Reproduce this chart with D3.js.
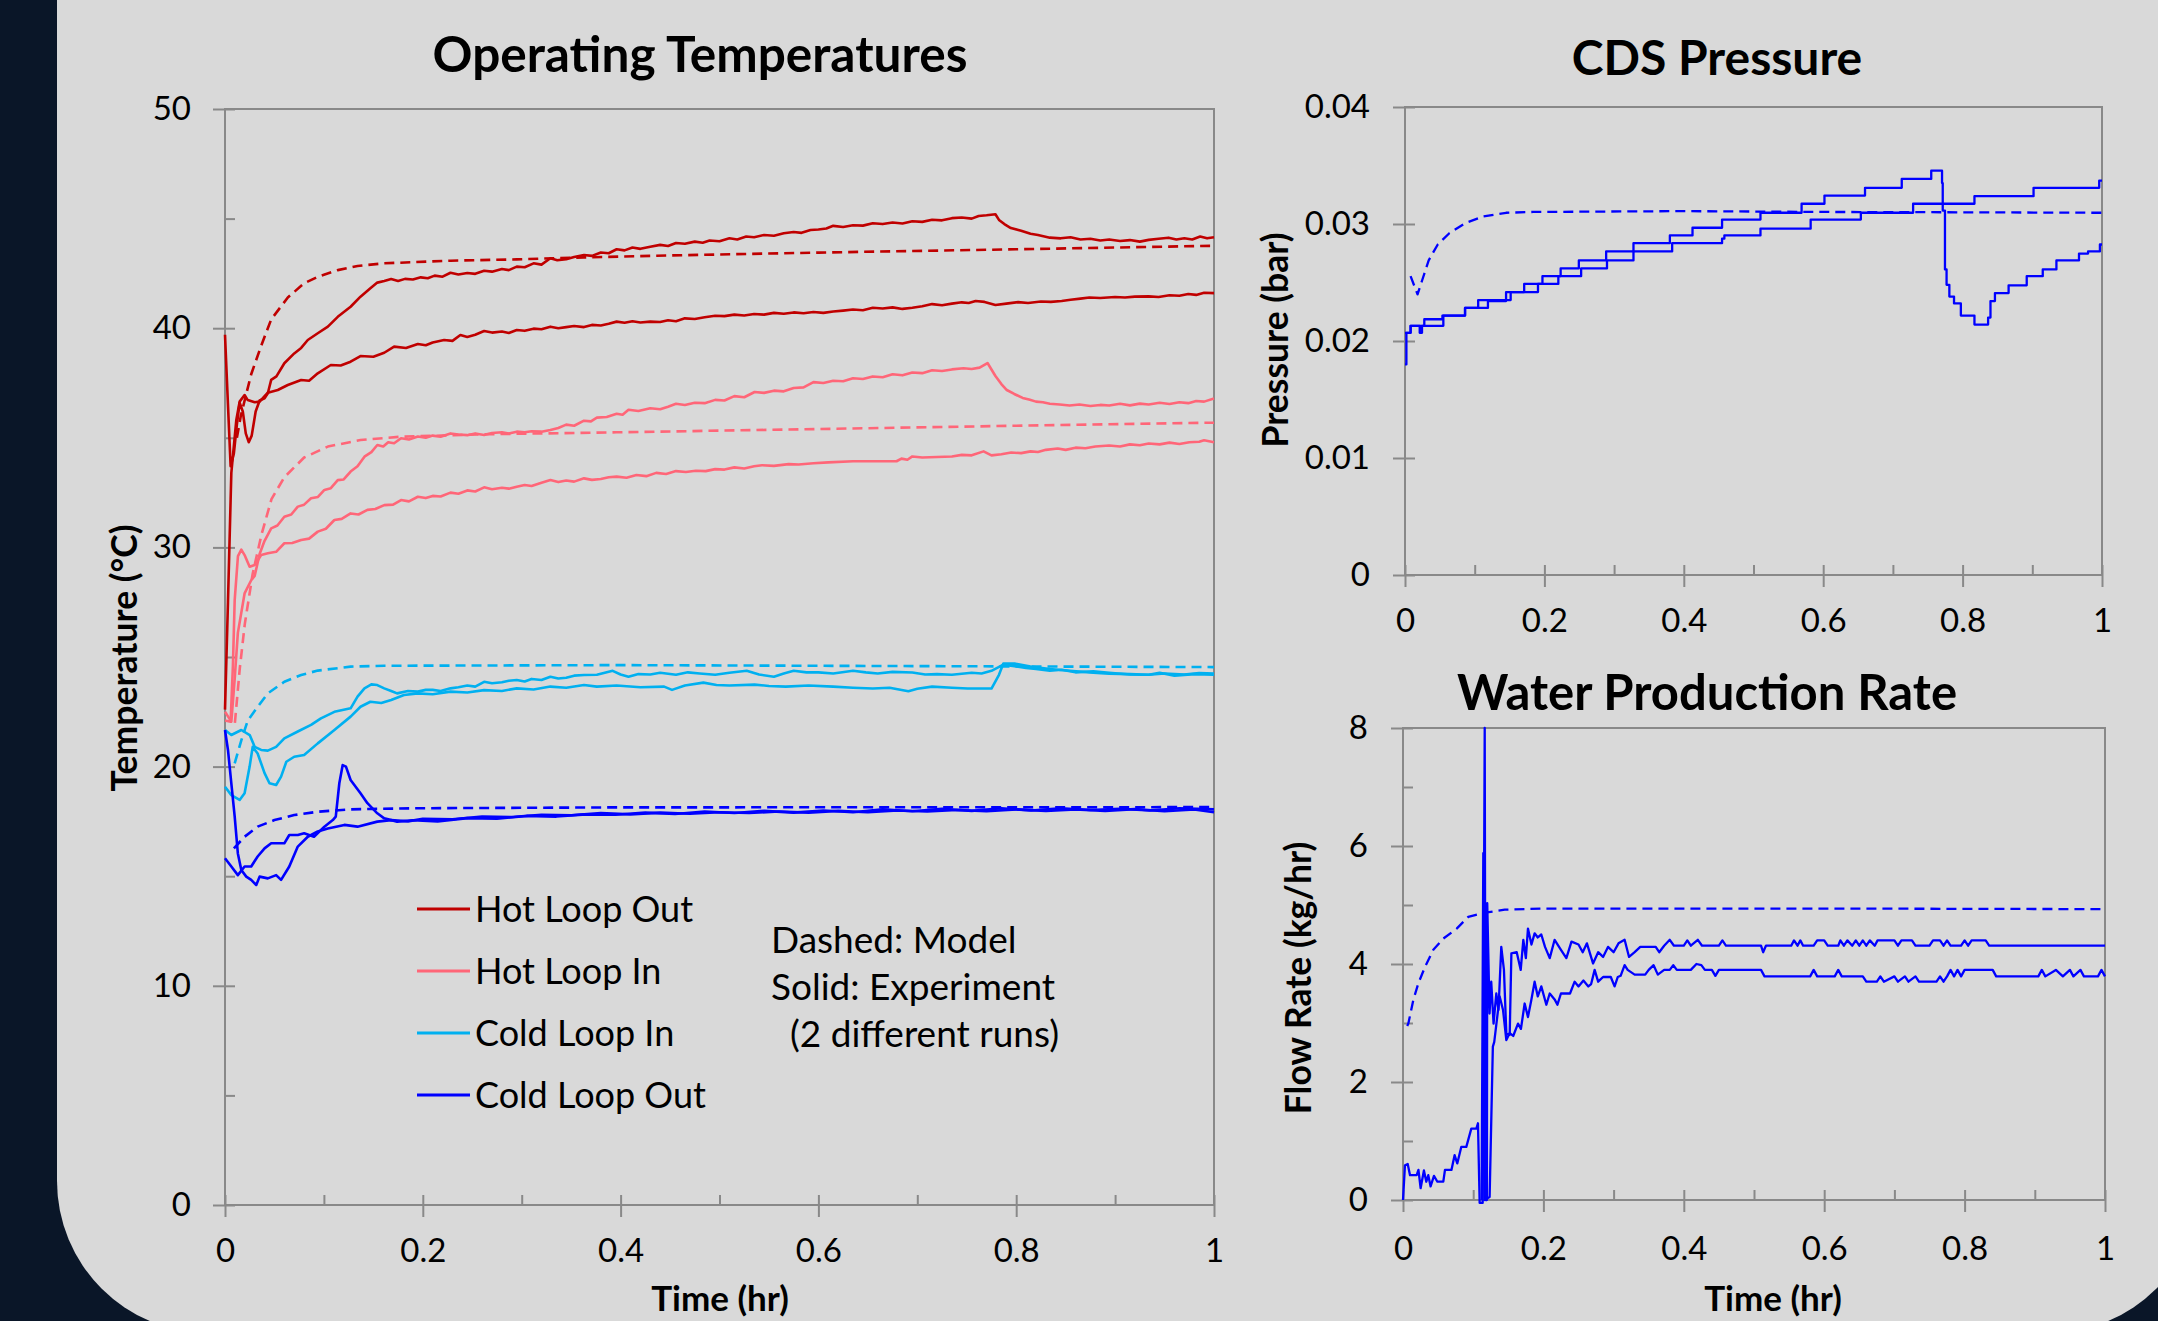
<!DOCTYPE html>
<html>
<head>
<meta charset="utf-8">
<script src="https://cdn.jsdelivr.net/npm/d3@7"></script>
<style>
  body { margin: 0; background: #0a1628; }
  svg { display: block; }
  text { font-family: Lato, "Open Sans", sans-serif; fill: #000; }
</style>
</head>
<body>
<svg id="chart" width="2158" height="1321"></svg>
<script>
// ---- data: [time (hr), value] ----

// Operating temperatures (deg C)
const hotOutModel = [[0.012,35.0],[0.016,36.0],[0.0215,37.0],[0.0265,37.9],[0.0366,39.2],[0.0467,40.4],[0.0635,41.4],[0.080,42.05],[0.094,42.35],[0.114,42.65],[0.134,42.84],[0.161,42.96],[0.228,43.08],[0.295,43.14],[0.363,43.23],[0.45,43.32],[0.6,43.45],[0.8,43.6],[1.0,43.76]];
const hotOutRun1 = [[0,39.7],[0.003,36.5],[0.0057,33.7],[0.009,34.3],[0.012,35.6],[0.0148,36.6],[0.018,36.2],[0.021,35.2],[0.024,34.8],[0.027,35.1],[0.031,36.2],[0.035,36.7],[0.040,36.8],[0.0433,37.03],[0.0467,37.64],[0.052,37.8],[0.060,38.4],[0.070,38.85],[0.077,39.1],[0.0837,39.46],[0.0938,39.77],[0.104,40.07],[0.114,40.52],[0.127,40.98],[0.137,41.44],[0.147,41.82],[0.154,42.08],[0.161,42.15],[0.168,42.24],[0.175,42.15],[0.182,42.25],[0.19,42.22],[0.198,42.32],[0.205,42.28],[0.212,42.4],[0.22,42.35],[0.228,42.53],[0.236,42.45],[0.245,42.52],[0.253,42.48],[0.262,42.62],[0.27,42.58],[0.28,42.7],[0.287,42.65],[0.295,42.81],[0.303,42.78],[0.312,42.96],[0.32,42.9],[0.329,43.19],[0.336,43.1],[0.345,43.15],[0.353,43.25],[0.363,43.34],[0.371,43.3],[0.38,43.45],[0.388,43.42],[0.396,43.6],[0.404,43.55],[0.412,43.68],[0.42,43.62],[0.43,43.72],[0.44,43.8],[0.448,43.75],[0.456,43.89],[0.465,43.85],[0.475,43.95],[0.483,43.9],[0.49,44.0],[0.5,43.97],[0.51,44.1],[0.518,44.05],[0.527,44.18],[0.535,44.15],[0.545,44.25],[0.555,44.22],[0.565,44.33],[0.575,44.39],[0.583,44.35],[0.592,44.48],[0.6,44.5],[0.608,44.55],[0.615,44.67],[0.625,44.62],[0.635,44.7],[0.645,44.68],[0.655,44.79],[0.665,44.75],[0.675,44.82],[0.685,44.78],[0.695,44.88],[0.705,44.85],[0.715,44.95],[0.725,44.92],[0.735,45.02],[0.745,45.05],[0.755,45.0],[0.762,45.12],[0.77,45.15],[0.779,45.2],[0.7826,44.94],[0.788,44.75],[0.7946,44.57],[0.805,44.45],[0.8145,44.31],[0.822,44.25],[0.834,44.13],[0.845,44.1],[0.855,44.15],[0.865,44.05],[0.875,44.08],[0.885,44.0],[0.894,44.05],[0.905,43.98],[0.915,44.02],[0.925,43.95],[0.934,44.03],[0.944,44.08],[0.954,44.13],[0.962,44.05],[0.97,44.1],[0.978,44.05],[0.986,44.18],[0.993,44.1],[1.0,44.15]];
const hotOutRun2 = [[0,22.6],[0.003,27.5],[0.0057,32.2],[0.0064,33.4],[0.0114,35.8],[0.0148,36.65],[0.0198,36.95],[0.023,36.72],[0.030,36.62],[0.035,36.65],[0.0433,37.06],[0.0534,37.18],[0.0635,37.41],[0.077,37.64],[0.085,37.6],[0.0938,37.94],[0.107,38.32],[0.117,38.3],[0.127,38.47],[0.137,38.73],[0.15,38.7],[0.161,38.88],[0.171,39.16],[0.183,39.1],[0.195,39.28],[0.203,39.22],[0.21,39.35],[0.2215,39.46],[0.23,39.42],[0.238,39.69],[0.245,39.6],[0.253,39.7],[0.262,39.87],[0.27,39.8],[0.28,39.85],[0.287,39.78],[0.295,39.92],[0.303,39.88],[0.312,39.98],[0.32,39.95],[0.329,40.07],[0.337,40.0],[0.345,40.05],[0.353,40.1],[0.363,40.05],[0.371,40.15],[0.38,40.12],[0.388,40.2],[0.396,40.3],[0.404,40.25],[0.412,40.32],[0.42,40.26],[0.43,40.3],[0.44,40.28],[0.448,40.36],[0.456,40.32],[0.465,40.45],[0.475,40.42],[0.485,40.5],[0.4956,40.57],[0.505,40.55],[0.515,40.62],[0.525,40.58],[0.535,40.65],[0.545,40.62],[0.555,40.7],[0.565,40.66],[0.575,40.72],[0.585,40.68],[0.595,40.74],[0.605,40.7],[0.615,40.76],[0.625,40.8],[0.635,40.85],[0.645,40.82],[0.655,40.93],[0.665,40.9],[0.675,40.95],[0.685,40.88],[0.695,40.93],[0.705,41.0],[0.715,41.1],[0.725,41.05],[0.735,41.12],[0.745,41.18],[0.752,41.15],[0.759,41.24],[0.768,41.2],[0.779,41.06],[0.79,41.12],[0.802,41.19],[0.812,41.15],[0.825,41.22],[0.835,41.2],[0.846,41.24],[0.855,41.3],[0.865,41.35],[0.874,41.4],[0.885,41.38],[0.9,41.42],[0.91,41.4],[0.92,41.44],[0.934,41.45],[0.944,41.42],[0.955,41.5],[0.965,41.48],[0.974,41.56],[0.982,41.52],[0.99,41.62],[1.0,41.6]];

const hotInModel = [[0.010,22.0],[0.015,24.5],[0.020,26.5],[0.028,28.8],[0.037,30.6],[0.047,32.2],[0.060,33.2],[0.080,34.1],[0.104,34.6],[0.137,34.9],[0.178,35.05],[0.262,35.16],[0.396,35.25],[0.6,35.4],[0.8,35.55],[1.0,35.69]];
const hotInRun1 = [[0,22.5],[0.0064,22.05],[0.0098,24.0],[0.013,26.1],[0.0198,27.9],[0.0265,28.5],[0.030,28.7],[0.035,29.7],[0.040,30.3],[0.0467,30.87],[0.053,31.0],[0.060,31.4],[0.067,31.5],[0.0736,31.86],[0.08,31.95],[0.087,32.24],[0.094,32.3],[0.1005,32.62],[0.107,32.7],[0.114,33.07],[0.12,33.1],[0.127,33.46],[0.134,33.7],[0.141,34.14],[0.148,34.35],[0.154,34.67],[0.16,34.6],[0.165,34.8],[0.171,34.75],[0.178,34.98],[0.186,34.92],[0.195,35.06],[0.203,35.0],[0.21,35.1],[0.218,35.05],[0.228,35.2],[0.236,35.15],[0.245,35.12],[0.253,35.2],[0.262,35.13],[0.27,35.22],[0.28,35.25],[0.287,35.2],[0.295,35.28],[0.303,35.25],[0.31,35.3],[0.32,35.28],[0.329,35.36],[0.337,35.45],[0.345,35.6],[0.353,35.55],[0.363,35.78],[0.37,35.75],[0.376,35.92],[0.386,35.95],[0.396,36.1],[0.402,36.05],[0.408,36.28],[0.418,36.22],[0.43,36.35],[0.44,36.3],[0.448,36.42],[0.456,36.55],[0.465,36.5],[0.475,36.6],[0.485,36.58],[0.4956,36.73],[0.505,36.7],[0.515,36.9],[0.525,36.85],[0.5355,37.09],[0.545,37.05],[0.555,37.15],[0.565,37.12],[0.575,37.27],[0.585,37.3],[0.595,37.54],[0.605,37.5],[0.615,37.6],[0.625,37.58],[0.635,37.72],[0.645,37.68],[0.655,37.8],[0.665,37.76],[0.675,37.9],[0.685,37.85],[0.695,37.98],[0.705,37.95],[0.715,38.08],[0.725,38.05],[0.735,38.12],[0.7467,38.17],[0.755,38.14],[0.763,38.2],[0.771,38.41],[0.779,37.82],[0.785,37.45],[0.7905,37.18],[0.798,37.0],[0.8065,36.82],[0.813,36.75],[0.82,36.65],[0.827,36.62],[0.834,36.55],[0.844,36.52],[0.854,36.47],[0.864,36.52],[0.875,36.45],[0.885,36.5],[0.894,36.47],[0.905,36.55],[0.915,36.48],[0.925,36.56],[0.934,36.52],[0.945,36.6],[0.955,36.54],[0.965,36.62],[0.974,36.58],[0.982,36.68],[0.99,36.65],[1.0,36.79]];
const hotInRun2 = [[0,22.1],[0.0057,22.05],[0.008,24.6],[0.0098,27.6],[0.0131,29.6],[0.0165,29.9],[0.0198,29.65],[0.0249,29.12],[0.030,29.2],[0.0366,29.65],[0.0433,29.73],[0.0517,29.8],[0.060,30.19],[0.068,30.2],[0.077,30.34],[0.085,30.4],[0.0938,30.72],[0.102,30.85],[0.1106,31.25],[0.118,31.3],[0.127,31.55],[0.135,31.5],[0.144,31.71],[0.152,31.75],[0.161,31.93],[0.17,31.95],[0.178,32.16],[0.186,32.1],[0.195,32.31],[0.203,32.25],[0.21,32.35],[0.218,32.32],[0.228,32.5],[0.236,32.45],[0.245,32.6],[0.253,32.55],[0.262,32.74],[0.27,32.65],[0.28,32.72],[0.287,32.68],[0.295,32.77],[0.303,32.85],[0.31,32.8],[0.32,32.95],[0.329,33.07],[0.337,32.98],[0.345,33.05],[0.353,33.0],[0.363,33.15],[0.371,33.08],[0.38,33.12],[0.388,33.2],[0.396,33.23],[0.406,33.18],[0.416,33.3],[0.426,33.25],[0.436,33.4],[0.446,33.35],[0.456,33.48],[0.466,33.44],[0.476,33.5],[0.486,33.48],[0.4956,33.57],[0.505,33.55],[0.515,33.65],[0.525,33.6],[0.535,33.7],[0.543,33.75],[0.555,33.72],[0.57,33.8],[0.58,33.78],[0.595,33.84],[0.61,33.88],[0.635,33.93],[0.679,33.93],[0.684,34.05],[0.69,34.0],[0.695,34.15],[0.705,34.1],[0.735,34.15],[0.745,34.22],[0.755,34.2],[0.767,34.38],[0.775,34.2],[0.785,34.25],[0.795,34.33],[0.805,34.3],[0.8145,34.38],[0.822,34.35],[0.83,34.45],[0.842,34.51],[0.85,34.45],[0.86,34.55],[0.87,34.52],[0.88,34.6],[0.894,34.65],[0.905,34.6],[0.915,34.7],[0.925,34.66],[0.934,34.74],[0.945,34.7],[0.955,34.78],[0.965,34.72],[0.975,34.8],[0.985,34.82],[0.99,34.89],[1.0,34.8]];

const coldInModel = [[0.0098,20.15],[0.0165,21.2],[0.023,22.1],[0.033,22.73],[0.0433,23.34],[0.060,23.87],[0.077,24.18],[0.0938,24.38],[0.127,24.56],[0.161,24.6],[0.396,24.63],[1.0,24.54]];
const coldInRun1 = [[0,21.67],[0.0064,21.44],[0.0165,21.67],[0.025,21.44],[0.030,20.9],[0.0366,20.76],[0.0433,20.73],[0.0517,20.9],[0.060,21.29],[0.0736,21.6],[0.087,21.9],[0.097,22.2],[0.1106,22.5],[0.127,22.66],[0.134,23.19],[0.141,23.57],[0.148,23.75],[0.154,23.72],[0.161,23.57],[0.168,23.45],[0.174,23.34],[0.185,23.45],[0.195,23.42],[0.203,23.5],[0.21,23.5],[0.218,23.45],[0.228,23.57],[0.236,23.62],[0.245,23.7],[0.253,23.65],[0.262,23.87],[0.27,23.8],[0.28,23.85],[0.287,23.92],[0.295,23.95],[0.303,23.88],[0.31,24.0],[0.32,23.95],[0.329,24.1],[0.337,24.02],[0.345,24.05],[0.353,24.15],[0.363,24.18],[0.376,24.19],[0.384,24.28],[0.392,24.37],[0.4,24.2],[0.408,24.1],[0.418,24.22],[0.43,24.2],[0.44,24.28],[0.456,24.19],[0.468,24.3],[0.48,24.25],[0.4956,24.19],[0.51,24.28],[0.5275,24.37],[0.54,24.2],[0.555,24.1],[0.565,24.25],[0.575,24.37],[0.588,24.3],[0.6,24.3],[0.615,24.25],[0.635,24.37],[0.648,24.3],[0.66,24.25],[0.675,24.32],[0.695,24.29],[0.708,24.2],[0.72,24.22],[0.735,24.19],[0.755,24.28],[0.765,24.25],[0.775,24.37],[0.787,24.65],[0.802,24.56],[0.81,24.5],[0.82,24.45],[0.834,24.37],[0.846,24.42],[0.86,24.3],[0.878,24.35],[0.894,24.28],[0.915,24.2],[0.934,24.19],[0.945,24.28],[0.96,24.15],[0.98,24.22],[1.0,24.19]];
const coldInRun2 = [[0,19.08],[0.0064,18.7],[0.0148,18.48],[0.0198,18.78],[0.0249,20.0],[0.028,20.9],[0.033,20.6],[0.040,19.7],[0.045,19.24],[0.0517,19.16],[0.0567,19.54],[0.062,20.22],[0.070,20.45],[0.080,20.53],[0.0938,21.06],[0.1106,21.67],[0.127,22.28],[0.137,22.73],[0.147,22.96],[0.158,22.9],[0.168,23.04],[0.181,23.27],[0.195,23.34],[0.21,23.3],[0.228,23.42],[0.245,23.38],[0.262,23.49],[0.28,23.45],[0.295,23.57],[0.312,23.52],[0.329,23.65],[0.345,23.6],[0.363,23.72],[0.376,23.65],[0.396,23.7],[0.42,23.62],[0.444,23.65],[0.452,23.5],[0.465,23.7],[0.4837,23.83],[0.497,23.72],[0.51,23.7],[0.5355,23.74],[0.55,23.68],[0.567,23.65],[0.59,23.7],[0.615,23.65],[0.635,23.6],[0.655,23.56],[0.672,23.6],[0.691,23.44],[0.7,23.55],[0.715,23.65],[0.735,23.6],[0.751,23.56],[0.775,23.56],[0.7826,24.19],[0.787,24.7],[0.7985,24.7],[0.8145,24.56],[0.834,24.45],[0.854,24.37],[0.874,24.3],[0.894,24.24],[0.915,24.22],[0.934,24.19],[0.95,24.25],[0.97,24.2],[0.985,24.27],[1.0,24.24]];

const coldOutModel = [[0.009,16.27],[0.0198,16.8],[0.033,17.26],[0.050,17.56],[0.070,17.79],[0.0938,17.94],[0.127,18.05],[0.195,18.1],[0.396,18.14],[1.0,18.15]];
const coldOutRun1 = [[0,21.67],[0.003,20.76],[0.0064,19.24],[0.0098,17.72],[0.013,16.04],[0.0165,15.28],[0.0215,14.98],[0.0265,14.83],[0.0316,14.6],[0.035,14.98],[0.0433,14.9],[0.0517,15.05],[0.0567,14.83],[0.065,15.44],[0.0736,16.35],[0.0837,16.8],[0.0938,17.04],[0.104,17.18],[0.1207,17.34],[0.134,17.26],[0.154,17.49],[0.168,17.56],[0.185,17.5],[0.2,17.62],[0.23,17.6],[0.26,17.72],[0.29,17.7],[0.32,17.8],[0.35,17.78],[0.38,17.88],[0.41,17.82],[0.44,17.9],[0.47,17.85],[0.5,17.92],[0.53,17.88],[0.56,17.95],[0.59,17.9],[0.62,17.98],[0.65,17.92],[0.68,18.0],[0.71,17.95],[0.74,18.02],[0.77,17.96],[0.8,18.05],[0.83,17.98],[0.86,18.05],[0.89,17.98],[0.92,18.06],[0.95,17.96],[0.98,18.04],[1.0,17.92]];
const coldOutRun2 = [[0,15.82],[0.0064,15.44],[0.013,15.05],[0.0198,15.44],[0.0265,15.44],[0.033,15.9],[0.040,16.27],[0.0467,16.5],[0.06,16.5],[0.065,16.88],[0.0736,16.88],[0.080,16.96],[0.090,16.8],[0.1005,17.26],[0.109,17.56],[0.112,17.72],[0.1156,19.24],[0.119,20.07],[0.1223,20.0],[0.127,19.39],[0.137,18.78],[0.144,18.33],[0.154,17.87],[0.161,17.64],[0.174,17.49],[0.19,17.55],[0.215,17.5],[0.245,17.65],[0.275,17.62],[0.305,17.75],[0.335,17.72],[0.365,17.82],[0.395,17.8],[0.425,17.9],[0.455,17.84],[0.485,17.95],[0.515,17.88],[0.545,17.98],[0.575,17.9],[0.605,18.0],[0.635,17.92],[0.665,18.05],[0.695,17.96],[0.725,18.08],[0.755,17.98],[0.785,18.1],[0.815,18.0],[0.845,18.1],[0.875,18.02],[0.905,18.08],[0.935,18.0],[0.965,18.1],[1.0,18.05]];

// CDS pressure (bar); experiment values are step levels
const presModel = [[0.008,0.02554],[0.018,0.02399],[0.0244,0.02515],[0.034,0.02689],[0.047,0.02825],[0.0636,0.02921],[0.0863,0.03007],[0.1124,0.03065],[0.145,0.03096],[0.184,0.03103],[0.4,0.0311],[0.6,0.03103],[0.8,0.031],[1.0,0.03096]];
const presRun1 = [[0,0.0207],[0.008,0.0213],[0.0211,0.0207],[0.0244,0.0213],[0.055,0.02217],[0.086,0.02283],[0.105,0.0235],[0.1516,0.02418],[0.1908,0.02488],[0.22,0.02554],[0.2527,0.0262],[0.2898,0.02689],[0.3278,0.02766],[0.3833,0.02836],[0.4549,0.02875],[0.4582,0.02902],[0.51,0.0296],[0.582,0.03038],[0.654,0.03096],[0.729,0.03173],[0.817,0.03238],[0.9018,0.03309],[0.996,0.0337],[1.0,0.0337]];
const presRun2 = [[0,0.018],[0.002,0.0207],[0.0081,0.0213],[0.0277,0.02186],[0.0537,0.02217],[0.0863,0.02283],[0.119,0.02341],[0.145,0.02418],[0.171,0.02488],[0.1972,0.02554],[0.2233,0.0262],[0.2494,0.02689],[0.2886,0.02766],[0.3278,0.02836],[0.38,0.02902],[0.4125,0.02968],[0.4549,0.03038],[0.51,0.03096],[0.569,0.03173],[0.6018,0.03243],[0.66,0.03309],[0.7127,0.03385],[0.755,0.03456],[0.7705,0.0335],[0.7715,0.03115],[0.7747,0.02612],[0.777,0.0248],[0.781,0.0238],[0.7877,0.02321],[0.7975,0.02217],[0.817,0.0214],[0.8366,0.022],[0.840,0.02341],[0.8464,0.0241],[0.866,0.02476],[0.892,0.02554],[0.915,0.02612],[0.9346,0.02689],[0.967,0.02747],[0.98,0.02766],[0.997,0.02825],[1.0,0.02825]];

// Water production rate (kg/hr)
const flowModel = [[0.006,2.95],[0.0076,2.99],[0.0147,3.39],[0.0218,3.67],[0.0313,3.95],[0.0432,4.24],[0.0574,4.43],[0.0765,4.60],[0.093,4.80],[0.1026,4.83],[0.1168,4.87],[0.145,4.92],[0.2023,4.94],[0.6,4.94],[1.0,4.93]];
const flowRun1 = [[0,0],[0.0028,0.59],[0.0067,0.61],[0.01,0.42],[0.0195,0.42],[0.022,0.51],[0.0251,0.2],[0.0298,0.5],[0.0332,0.31],[0.036,0.42],[0.0393,0.23],[0.0441,0.41],[0.049,0.31],[0.0574,0.31],[0.0598,0.51],[0.069,0.51],[0.0735,0.76],[0.0773,0.62],[0.083,0.9],[0.0902,0.9],[0.0973,1.21],[0.1045,1.21],[0.1068,1.3],[0.1092,-0.05],[0.1135,-0.05],[0.1164,8.0],[0.1177,0.0],[0.1195,0.0],[0.12,5.03],[0.1233,3.16],[0.1257,3.7],[0.129,2.99],[0.1329,3.5],[0.136,3.22],[0.14,4.29],[0.1438,3.9],[0.1472,2.82],[0.152,2.8],[0.1544,4.18],[0.162,4.2],[0.1677,3.9],[0.1714,4.41],[0.175,4.1],[0.178,4.6],[0.183,4.33],[0.1875,4.52],[0.192,4.45],[0.197,4.5],[0.2023,4.29],[0.209,4.1],[0.216,4.41],[0.225,4.24],[0.2327,4.1],[0.24,4.38],[0.25,4.33],[0.256,4.2],[0.262,4.35],[0.2707,4.01],[0.278,4.2],[0.285,4.12],[0.292,4.29],[0.3,4.2],[0.307,4.35],[0.3157,4.41],[0.322,4.12],[0.33,4.2],[0.338,4.29],[0.36,4.29],[0.365,4.2],[0.372,4.31],[0.38,4.41],[0.386,4.31],[0.4,4.31],[0.405,4.4],[0.41,4.31],[0.42,4.41],[0.426,4.31],[0.45,4.31],[0.455,4.4],[0.46,4.31],[0.51,4.31],[0.513,4.2],[0.517,4.31],[0.553,4.31],[0.557,4.4],[0.562,4.31],[0.566,4.4],[0.57,4.31],[0.585,4.31],[0.59,4.4],[0.6,4.4],[0.605,4.31],[0.62,4.31],[0.623,4.4],[0.628,4.31],[0.633,4.4],[0.64,4.31],[0.645,4.4],[0.65,4.31],[0.655,4.4],[0.66,4.31],[0.665,4.4],[0.672,4.31],[0.676,4.4],[0.7,4.4],[0.705,4.31],[0.71,4.4],[0.725,4.4],[0.73,4.31],[0.75,4.31],[0.755,4.4],[0.765,4.4],[0.77,4.31],[0.775,4.4],[0.78,4.31],[0.795,4.31],[0.8,4.4],[0.805,4.31],[0.81,4.4],[0.83,4.4],[0.835,4.31],[1.0,4.31]];
const flowRun2 = [[0.112,0],[0.1144,5.88],[0.116,0.0],[0.1234,0.05],[0.128,2.6],[0.13,2.68],[0.1377,3.45],[0.1425,3.22],[0.1472,2.71],[0.152,2.83],[0.157,2.78],[0.1638,2.99],[0.168,2.9],[0.1733,3.33],[0.178,3.1],[0.1828,3.39],[0.1875,3.7],[0.192,3.45],[0.197,3.62],[0.2042,3.31],[0.209,3.5],[0.216,3.4],[0.22,3.31],[0.225,3.5],[0.2379,3.5],[0.2445,3.7],[0.25,3.62],[0.257,3.72],[0.264,3.62],[0.268,3.66],[0.273,3.9],[0.278,3.7],[0.285,3.78],[0.296,3.78],[0.3014,3.62],[0.306,3.78],[0.31,3.8],[0.3157,3.98],[0.32,3.9],[0.33,3.82],[0.345,3.82],[0.35,3.9],[0.357,3.98],[0.363,3.82],[0.372,3.9],[0.38,3.9],[0.385,3.98],[0.39,3.9],[0.41,3.9],[0.418,4.0],[0.425,3.98],[0.43,3.9],[0.44,3.9],[0.445,3.8],[0.45,3.9],[0.51,3.9],[0.515,3.79],[0.58,3.79],[0.585,3.9],[0.59,3.79],[0.615,3.79],[0.62,3.9],[0.625,3.79],[0.655,3.79],[0.66,3.7],[0.675,3.7],[0.68,3.79],[0.685,3.7],[0.7,3.79],[0.705,3.7],[0.715,3.79],[0.72,3.7],[0.73,3.79],[0.735,3.7],[0.76,3.7],[0.765,3.79],[0.77,3.7],[0.775,3.79],[0.78,3.9],[0.785,3.79],[0.79,3.9],[0.795,3.79],[0.8,3.9],[0.84,3.9],[0.845,3.79],[0.905,3.79],[0.91,3.9],[0.915,3.79],[0.93,3.9],[0.94,3.79],[0.95,3.9],[0.955,3.79],[0.965,3.9],[0.97,3.79],[0.99,3.79],[0.995,3.9],[1.0,3.79]];

// axis ticks
const timeMajor = [0, 0.2, 0.4, 0.6, 0.8, 1];
const timeMinor = [0.1, 0.3, 0.5, 0.7, 0.9];
const tempMajor = [0, 10, 20, 30, 40, 50];
const tempMinor = [5, 15, 25, 35, 45];
const presMajor = [0, 0.01, 0.02, 0.03, 0.04];
const flowMajor = [0, 2, 4, 6, 8];
const flowMinor = [1, 3, 5, 7];

const legendNames = ['Hot Loop Out', 'Hot Loop In', 'Cold Loop In', 'Cold Loop Out'];
const colors = ['#c00000', '#ff6678', '#00b0f0', '#0000ff'];
const notes = ['Dashed: Model', 'Solid: Experiment', '  (2 different runs)'];

const AXIS_GREY = '#898989';

class Panel {

  constructor(_config, _series) {
    this.config = _config;
    this.series = _series;
    this.initVis();
  }

  initVis() {
    let vis = this;
    const c = vis.config;

    vis.x = d3.scaleLinear().domain([0, 1]).range([c.left, c.right]);
    vis.y = d3.scaleLinear().domain(c.yDomain).range([c.bottom, c.top]);

    vis.g = c.svg.append('g');

    // major ticks cross the axis, minor ones only point inward
    vis.g.append('g')
      .attr('transform', `translate(${c.left},0)`)
      .call(d3.axisLeft(vis.y).tickValues(c.yMajor).tickSizeInner(12).tickSizeOuter(0)
        .tickPadding(c.yPad).tickFormat(d3.format('~g')))
      .call(g => g.select('.domain').remove())
      .call(g => g.selectAll('text').attr('font-size', 33).style('font-family', 'Lato'));
    vis.g.append('g')
      .attr('transform', `translate(${c.left},0)`)
      .call(d3.axisRight(vis.y).tickValues(c.yMajor.concat(c.yMinor)).tickSize(10).tickFormat(''))
      .call(g => g.select('.domain').remove());

    vis.g.append('g')
      .attr('transform', `translate(0,${c.bottom})`)
      .call(d3.axisBottom(vis.x).tickValues(timeMajor).tickSizeInner(12).tickSizeOuter(0)
        .tickPadding(c.xPad).tickFormat(d3.format('~g')))
      .call(g => g.select('.domain').remove())
      .call(g => g.selectAll('text').attr('font-size', 33).style('font-family', 'Lato'));
    vis.g.append('g')
      .attr('transform', `translate(0,${c.bottom})`)
      .call(d3.axisTop(vis.x).tickValues(timeMajor.concat(timeMinor)).tickSize(10).tickFormat(''))
      .call(g => g.select('.domain').remove());

    vis.g.selectAll('.tick line').attr('stroke', AXIS_GREY).attr('stroke-width', 2);

    vis.g.append('rect')
      .attr('x', c.left).attr('y', c.top)
      .attr('width', c.right - c.left).attr('height', c.bottom - c.top)
      .attr('fill', 'none').attr('stroke', AXIS_GREY).attr('stroke-width', 2);

    vis.g.append('text')
      .attr('x', c.titleX).attr('y', c.titleY)
      .attr('text-anchor', 'middle')
      .attr('font-size', c.titleSize || 49).attr('font-weight', 'bold')
      .text(c.title);

    vis.g.append('text')
      .attr('transform', `translate(${c.yTitleX},${c.yTitleY}) rotate(-90)`)
      .attr('text-anchor', 'middle')
      .attr('font-size', 35.5).attr('font-weight', 'bold')
      .text(c.yTitle);

    if (c.xTitle) {
      // sits right at the card's bottom edge, as in the slide
      vis.g.append('text')
        .attr('x', c.xTitleX).attr('y', 1311)
        .attr('text-anchor', 'middle')
        .attr('font-size', 35).attr('font-weight', 'bold')
        .text(c.xTitle);
    }

    vis.renderVis();
  }

  renderVis() {
    let vis = this;

    vis.g.selectAll('.series')
      .data(vis.series)
      .join('path')
      .attr('class', 'series')
      .attr('fill', 'none')
      .attr('stroke', d => d.color)
      .attr('stroke-width', d => d.width)
      .attr('stroke-linejoin', 'round')
      .attr('stroke-dasharray', d => d.dashed ? '10,6' : null)
      .attr('d', d => d3.line()
        .x(p => vis.x(p[0]))
        .y(p => vis.y(p[1]))
        .curve(d.step ? d3.curveStepAfter : d3.curveLinear)(d.values));
  }
}

const svg = d3.select('#chart');

// light rounded card on the dark slide
svg.append('rect')
  .attr('x', 57).attr('y', -300)
  .attr('width', 2144).attr('height', 1633)
  .attr('rx', 152).attr('ry', 152)
  .attr('fill', '#d9d9d9');

const TW = 2.6;
new Panel({
  svg: svg, left: 225, right: 1214, top: 109, bottom: 1205,
  yDomain: [0, 50], yMajor: tempMajor, yMinor: tempMinor, yPad: 22, xPad: 22,
  title: 'Operating Temperatures', titleX: 700, titleY: 72, titleSize: 49.5,
  yTitle: 'Temperature (°C)', yTitleX: 137, yTitleY: 658,
  xTitle: 'Time (hr)', xTitleX: 720
}, [
  {values: hotOutModel, color: colors[0], width: TW, dashed: true},
  {values: hotOutRun1, color: colors[0], width: TW},
  {values: hotOutRun2, color: colors[0], width: TW},
  {values: hotInModel, color: colors[1], width: TW, dashed: true},
  {values: hotInRun1, color: colors[1], width: TW},
  {values: hotInRun2, color: colors[1], width: TW},
  {values: coldInModel, color: colors[2], width: TW, dashed: true},
  {values: coldInRun1, color: colors[2], width: TW},
  {values: coldInRun2, color: colors[2], width: TW},
  {values: coldOutModel, color: colors[3], width: TW, dashed: true},
  {values: coldOutRun1, color: colors[3], width: TW},
  {values: coldOutRun2, color: colors[3], width: TW}
]);

new Panel({
  svg: svg, left: 1405, right: 2102, top: 107, bottom: 575,
  yDomain: [0, 0.04], yMajor: presMajor, yMinor: [], yPad: 23, xPad: 22,
  title: 'CDS Pressure', titleX: 1717, titleY: 75, titleSize: 48,
  yTitle: 'Pressure (bar)', yTitleX: 1288, yTitleY: 340
}, [
  {values: presModel, color: colors[3], width: 2.3, dashed: true},
  {values: presRun1, color: colors[3], width: 2.3, step: true},
  {values: presRun2, color: colors[3], width: 2.3, step: true}
]);

new Panel({
  svg: svg, left: 1403, right: 2105, top: 728, bottom: 1200,
  yDomain: [0, 8], yMajor: flowMajor, yMinor: flowMinor, yPad: 23, xPad: 25,
  title: 'Water Production Rate', titleX: 1707, titleY: 710, titleSize: 49,
  yTitle: 'Flow Rate (kg/hr)', yTitleX: 1311, yTitleY: 978,
  xTitle: 'Time (hr)', xTitleX: 1773
}, [
  {values: flowModel, color: colors[3], width: 2.3, dashed: true},
  {values: flowRun1, color: colors[3], width: 2.3},
  {values: flowRun2, color: colors[3], width: 2.3}
]);

// legend + note inside the temperature plot
const legend = svg.append('g');
legend.selectAll('line')
  .data(legendNames)
  .join('line')
  .attr('x1', 417).attr('x2', 470)
  .attr('y1', (d, i) => 909 + i * 62).attr('y2', (d, i) => 909 + i * 62)
  .attr('stroke', (d, i) => colors[i]).attr('stroke-width', 3);
legend.selectAll('text')
  .data(legendNames)
  .join('text')
  .attr('x', 475).attr('y', (d, i) => 922 + i * 62)
  .attr('font-size', 36)
  .text(d => d);

svg.append('g').selectAll('text')
  .data(notes)
  .join('text')
  .attr('x', 771).attr('y', (d, i) => 953 + i * 47)
  .attr('font-size', 37)
  .style('white-space', 'pre')
  .text(d => d);
</script>
</body>
</html>
